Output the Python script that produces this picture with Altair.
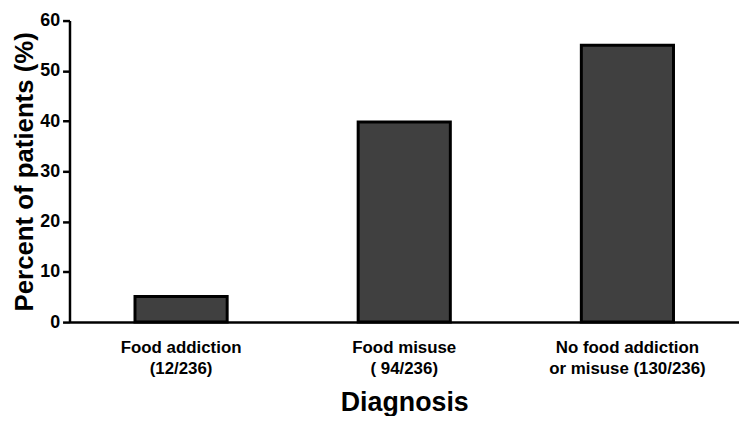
import altair as alt
import pandas as pd

categories = ["Food addiction|(12/236)", "Food misuse|( 94/236)", "No food addiction|or misuse (130/236)"]
percents = [5.08, 39.83, 55.08]

df = pd.DataFrame({"cat": categories, "pct": percents})

FONT = "Liberation Sans"

chart = alt.Chart(df).mark_bar(
    color="#404040", stroke="black", strokeWidth=3
).encode(
    x=alt.X("cat:N", sort=categories, title="Diagnosis",
            scale=alt.Scale(paddingInner=0.587, paddingOuter=0.2935),
            axis=alt.Axis(labelAngle=0, ticks=False, labelExpr="split(datum.label, '|')",
                          labelFontSize=17, labelFont=FONT, labelFontWeight="bold",
                          labelColor="black", labelPadding=18, labelLineHeight=21,
                          titleFontSize=27, titleFont=FONT, titleFontWeight="bold",
                          titleColor="black", titlePadding=13,
                          domainColor="black", domainWidth=2.5)),
    y=alt.Y("pct:Q", title="Percent of patients (%)",
            scale=alt.Scale(domain=[0, 60], nice=False),
            axis=alt.Axis(values=[0, 10, 20, 30, 40, 50, 60], grid=False,
                          tickSize=7, tickWidth=2.5, tickColor="black",
                          domainColor="black", domainWidth=2.5,
                          labelFontSize=18, labelFont=FONT, labelFontWeight="bold",
                          labelColor="black", labelPadding=3,
                          titleFontSize=26, titleFont=FONT, titleFontWeight="bold",
                          titleColor="black", titlePadding=2)),
).properties(
    width=675, height=304,
    autosize=alt.AutoSizeParams(type="none"),
    padding={"left": 62, "top": 11, "right": 0, "bottom": 93},
).configure_view(stroke=None)

chart.save("out.html", embed_options={"renderer": "svg", "actions": False})
